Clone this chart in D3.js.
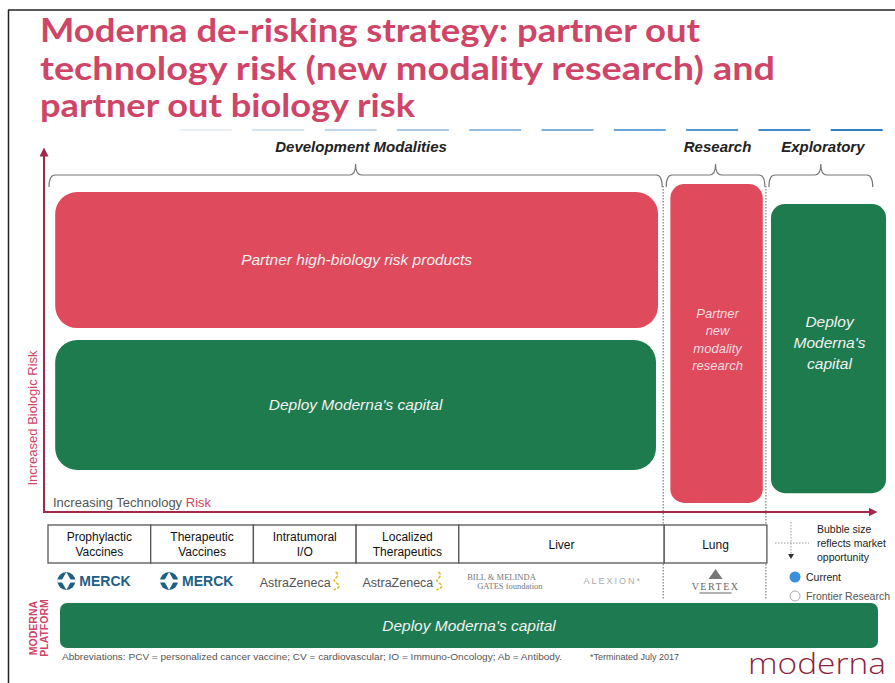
<!DOCTYPE html>
<html>
<head>
<meta charset="utf-8">
<script src="https://cdn.jsdelivr.net/npm/d3@7"></script>
<style>
  body { margin: 0; background: #fff; }
  svg { display: block; }
</style>
</head>
<body>
<script>
// ---- data ----
var titleLines = ["Moderna de-risking strategy: partner out",
                  "technology risk (new modality research) and",
                  "partner out biology risk"];
var stages = ["Development Modalities", "Research", "Exploratory"];
var stageSpan = [[0, 6], [6, 7], [7, 8.05]];          // in column units
var modalities = ["Prophylactic|Vaccines", "Therapeutic|Vaccines", "Intratumoral|I/O",
                  "Localized|Therapeutics", "Liver", "Lung"];
var modalitySpan = [[0, 1], [1, 2], [2, 3], [3, 4], [4, 6], [6, 7]];
var partners = ["MERCK", "MERCK", "AstraZeneca", "AstraZeneca", "GATES", "ALEXION", "VERTEX"];
var partnerPos = [0.5, 1.5, 2.5, 3.5, 4.5, 5.5, 6.5];
var boxLabels = ["Partner high-biology risk products", "Deploy Moderna's capital",
                 "Partner|new|modality|research", "Deploy|Moderna's|capital"];
var boxKind = ["partner", "capital", "partner", "capital"];
var boxTech = [[0.07, 5.94], [0.07, 5.92], [6.06, 6.96], [7.04, 8.16]];   // technology risk
var boxBio = [[5.08, 8.84], [1.16, 4.75], [0.25, 9.06], [0.52, 8.51]];    // biologic risk
var dashShades = 10;

var width = 895, height = 683;
var svg = d3.select("body").append("svg")
    .attr("width", width)
    .attr("height", height)
    .style("font-family", "'Liberation Sans', Arial, sans-serif");

var x = d3.scaleLinear().domain([0, 8]).range([48, 869.6]);
var y = d3.scaleLinear().domain([0, 10]).range([512, 150]);
var fill = { partner: "#df4a5d", capital: "#1e7b4e" };
var maroon = "#a3294b";

// page frame
svg.append("line").attr("x1", 8).attr("x2", width).attr("y1", 10).attr("y2", 10)
    .attr("stroke", "#222").attr("stroke-width", 1.5);
svg.append("line").attr("x1", 8.5).attr("x2", 8.5).attr("y1", 10).attr("y2", height)
    .attr("stroke", "#222").attr("stroke-width", 1.5);

// title
var titleWidth = [660, 735, 375];
svg.selectAll(".title").data(titleLines).enter().append("text")
    .attr("class", "title")
    .attr("x", 40)
    .attr("y", function(d, i) { return 42 + i * 37.5; })
    .attr("textLength", function(d, i) { return titleWidth[i]; })
    .attr("lengthAdjust", "spacingAndGlyphs")
    .style("font-family", "Lato, 'Open Sans', sans-serif")
    .style("font-weight", 700)
    .style("font-size", "32px")
    .attr("fill", "#cf4568")
    .text(function(d) { return d; });

// blue fading dash line
var dashColor = d3.scaleLinear().domain([0, dashShades - 1]).range(["#eaeff3", "#2c7fc6"]);
svg.selectAll(".dash").data(d3.range(dashShades)).enter().append("line")
    .attr("x1", function(d) { return 180 + d * 72.3; })
    .attr("x2", function(d) { return 180 + d * 72.3 + 52; })
    .attr("y1", 130).attr("y2", 130)
    .attr("stroke", function(d) { return dashColor(d); })
    .attr("stroke-width", 2.2);

// stage headers + braces
svg.selectAll(".stage").data(stages).enter().append("text")
    .attr("x", function(d, i) { return x((stageSpan[i][0] + stageSpan[i][1]) / 2) + (i == 0 ? 5 : 2); })
    .attr("y", 152)
    .attr("text-anchor", "middle")
    .style("font-size", "15px").style("font-weight", "bold").style("font-style", "italic")
    .attr("fill", "#222")
    .text(function(d) { return d; });

function brace(x0, x1) {
  var m = (x0 + x1) / 2, yb = 175;
  return "M" + x0 + "," + (yb + 12) + " Q" + x0 + "," + yb + " " + (x0 + 6) + "," + yb +
    " L" + (m - 6) + "," + yb + " Q" + m + "," + yb + " " + m + "," + (yb - 11) +
    " Q" + m + "," + yb + " " + (m + 6) + "," + yb +
    " L" + (x1 - 6) + "," + yb + " Q" + x1 + "," + yb + " " + x1 + "," + (yb + 12);
}
svg.selectAll(".brace").data(stageSpan).enter().append("path")
    .attr("d", function(d, i) { return brace(x(d[0]) + (i ? 2 : 1), x(d[1]) - 2); })
    .attr("fill", "none").attr("stroke", "#777").attr("stroke-width", 1.2);

// dotted dividers
[6, 7].forEach(function(v) {
  svg.append("line").attr("x1", x(v) - 1).attr("x2", x(v) - 1).attr("y1", 186).attr("y2", 600)
    .attr("stroke", "#888").attr("stroke-width", 1.3).attr("stroke-dasharray", "1.5,1.5");
});

// boxes
var boxes = svg.selectAll(".box").data(boxLabels).enter().append("g");
boxes.append("rect")
    .attr("x", function(d, i) { return x(boxTech[i][0]); })
    .attr("y", function(d, i) { return y(boxBio[i][1]); })
    .attr("width", function(d, i) { return x(boxTech[i][1]) - x(boxTech[i][0]); })
    .attr("height", function(d, i) { return y(boxBio[i][0]) - y(boxBio[i][1]); })
    .attr("rx", function(d, i) { return i < 2 ? 22 : 14; })
    .attr("fill", function(d, i) { return fill[boxKind[i]]; });
boxes.each(function(d, i) {
  var lines = d.split("|");
  var cx = x((boxTech[i][0] + boxTech[i][1]) / 2);
  var cy = y((boxBio[i][0] + boxBio[i][1]) / 2);
  var fs = i == 2 ? 13 : 15.5, lh = i == 2 ? 17.5 : 21;
  if (i == 3) cy -= 6;
  if (i == 2) cy -= 4;
  d3.select(this).selectAll("text").data(lines).enter().append("text")
    .attr("x", cx + (i < 2 ? 0 : 1))
    .attr("y", function(t, k) { return cy + (k - (lines.length - 1) / 2) * lh + fs * 0.35; })
    .attr("text-anchor", "middle")
    .style("font-size", fs + "px").style("font-style", "italic")
    .attr("fill", i == 2 ? "#f6dde0" : "#f2f2f2")
    .text(function(t) { return t; });
});

// axes
var defs = svg.append("defs");
defs.append("marker").attr("id", "arr").attr("viewBox", "0 0 10 10")
    .attr("refX", 5).attr("refY", 5).attr("markerWidth", 4.5).attr("markerHeight", 4.5)
    .attr("orient", "auto")
  .append("path").attr("d", "M0,0 L10,5 L0,10 z").attr("fill", maroon);
svg.append("line").attr("x1", 44).attr("y1", y(0) + 1).attr("x2", 44).attr("y2", 152)
    .attr("stroke", maroon).attr("stroke-width", 2).attr("marker-end", "url(#arr)");
svg.append("line").attr("x1", 44).attr("y1", y(0)).attr("x2", 873).attr("y2", y(0))
    .attr("stroke", maroon).attr("stroke-width", 2).attr("marker-end", "url(#arr)");

svg.append("text")
    .attr("transform", "translate(37," + 418 + ") rotate(-90)")
    .attr("text-anchor", "middle")
    .style("font-size", "13px").attr("fill", "#cf4568")
    .text("Increased Biologic Risk");
var tr = svg.append("text").attr("x", 53).attr("y", 507).style("font-size", "13px");
tr.append("tspan").attr("fill", "#555").text("Increasing Technology ");
tr.append("tspan").attr("fill", "#cf4568").text("Risk");

// modality table
var cells = svg.selectAll(".cell").data(modalities).enter().append("g");
cells.append("rect")
    .attr("x", function(d, i) { return x(modalitySpan[i][0]); })
    .attr("y", 525)
    .attr("width", function(d, i) { return x(modalitySpan[i][1]) - x(modalitySpan[i][0]); })
    .attr("height", 38)
    .attr("fill", "#fff").attr("stroke", "#555").attr("stroke-width", 1.3);
cells.each(function(d, i) {
  var lines = d.split("|");
  var cx = x((modalitySpan[i][0] + modalitySpan[i][1]) / 2);
  d3.select(this).selectAll("text").data(lines).enter().append("text")
    .attr("x", cx)
    .attr("y", function(t, k) { return lines.length == 1 ? 549 : 541 + k * 15; })
    .attr("text-anchor", "middle")
    .style("font-size", "12px").attr("fill", "#111")
    .text(function(t) { return t; });
});

// partner logos
var logos = svg.selectAll(".logo").data(partners).enter().append("g")
    .attr("transform", function(d, i) { return "translate(" + x(partnerPos[i]) + ",581)"; });
logos.each(function(d) {
  var g = d3.select(this);
  if (d == "MERCK") {
    g.append("circle").attr("cx", -33).attr("cy", 0).attr("r", 9).attr("fill", "#1e5f86");
    g.append("path").attr("d", "M-33,-9 L-28,0 L-33,9 L-38,0 z").attr("fill", "#fff");
    g.append("rect").attr("x", -42).attr("y", -1.5).attr("width", 18).attr("height", 3).attr("fill", "#fff");
    g.append("text").attr("x", -20).attr("y", 5).style("font-size", "14px").style("font-weight", "bold")
      .attr("fill", "#1e5f86").text("MERCK");
  } else if (d == "AstraZeneca") {
    g.append("text").attr("x", -45).attr("y", 6).style("font-size", "12.5px")
      .attr("fill", "#555").text("AstraZeneca");
    g.append("path").attr("d", "M31,-9 q4,3 0,6 q-4,3 2,6 q4,3 -4,6").attr("fill", "none")
      .attr("stroke", "#e9b92e").attr("stroke-width", 1.6).attr("stroke-dasharray", "3,1.5");
  } else if (d == "GATES") {
    g.append("text").attr("x", -43).attr("y", -1).style("font-family", "'Liberation Serif', serif")
      .style("font-size", "8.5px").attr("fill", "#777").text("BILL & MELINDA");
    g.append("text").attr("x", -33).attr("y", 8).style("font-family", "'Liberation Serif', serif")
      .style("font-size", "8.5px").attr("fill", "#777").text("GATES foundation");
  } else if (d == "ALEXION") {
    g.append("text").attr("x", 0).attr("y", 3).attr("text-anchor", "middle")
      .style("font-size", "9px").style("letter-spacing", "2px").attr("fill", "#aaa").text("ALEXION*");
  } else if (d == "VERTEX") {
    g.append("path").attr("d", "M0,-12 L7,-2 L-7,-2 z").attr("fill", "#777");
    g.append("text").attr("x", 0).attr("y", 9).attr("text-anchor", "middle")
      .style("font-family", "'Liberation Serif', serif").style("font-size", "10px")
      .style("letter-spacing", "1.5px").attr("fill", "#666").text("VERTEX");
    g.append("line").attr("x1", -16).attr("x2", 16).attr("y1", 12).attr("y2", 12)
      .attr("stroke", "#666").attr("stroke-width", 1.2);
  }
});

// legend
var lg = svg.append("g");
lg.append("line").attr("x1", 791).attr("x2", 791).attr("y1", 522).attr("y2", 558)
    .attr("stroke", "#999").attr("stroke-width", 1).attr("stroke-dasharray", "1.5,1.5");
lg.append("line").attr("x1", 775).attr("x2", 809).attr("y1", 543).attr("y2", 543)
    .attr("stroke", "#999").attr("stroke-width", 1).attr("stroke-dasharray", "1.5,1.5");
lg.append("path").attr("d", "M788,554 L794,554 L791,559 z").attr("fill", "#333");
["Bubble size", "reflects market", "opportunity"].forEach(function(t, k) {
  lg.append("text").attr("x", 817).attr("y", 533 + k * 14).style("font-size", "10.5px")
    .attr("fill", "#222").text(t);
});
lg.append("circle").attr("cx", 795).attr("cy", 577).attr("r", 5.5).attr("fill", "#3a8fd8");
lg.append("text").attr("x", 806).attr("y", 581).style("font-size", "10.5px").attr("fill", "#222").text("Current");
lg.append("circle").attr("cx", 795).attr("cy", 596).attr("r", 5).attr("fill", "none").attr("stroke", "#aaa");
lg.append("text").attr("x", 806).attr("y", 600).style("font-size", "10.5px").attr("fill", "#555").text("Frontier Research");

// platform bar
svg.append("rect").attr("x", 60).attr("y", 603).attr("width", 818).attr("height", 45)
    .attr("rx", 7).attr("fill", "#1e7a50");
svg.append("text").attr("x", 469).attr("y", 631).attr("text-anchor", "middle")
    .style("font-size", "15.5px").style("font-style", "italic").attr("fill", "#f2f2f2")
    .text("Deploy Moderna's capital");
["MODERNA", "PLATFORM"].forEach(function(t, k) {
  svg.append("text")
    .attr("transform", "translate(" + (37 + k * 11) + ",628) rotate(-90)")
    .attr("text-anchor", "middle")
    .style("font-size", "10.5px").style("font-weight", "bold").attr("fill", "#cf4568")
    .text(t);
});

// footnotes
svg.append("text").attr("x", 62).attr("y", 660).style("font-size", "9px").attr("fill", "#555")
    .attr("textLength", 500).attr("lengthAdjust", "spacingAndGlyphs")
    .text("Abbreviations: PCV = personalized cancer vaccine; CV = cardiovascular; IO = Immuno-Oncology; Ab = Antibody.");
svg.append("text").attr("x", 590).attr("y", 660).style("font-size", "9px").attr("fill", "#555")
    .text("*Terminated July 2017");
svg.append("text").attr("x", 748).attr("y", 674).style("font-size", "30px")
    .attr("textLength", 138).attr("lengthAdjust", "spacingAndGlyphs")
    .style("font-family", "'Open Sans', sans-serif").style("font-weight", 300)
    .attr("fill", "#8e1f3b").text("moderna");
</script>
</body>
</html>
